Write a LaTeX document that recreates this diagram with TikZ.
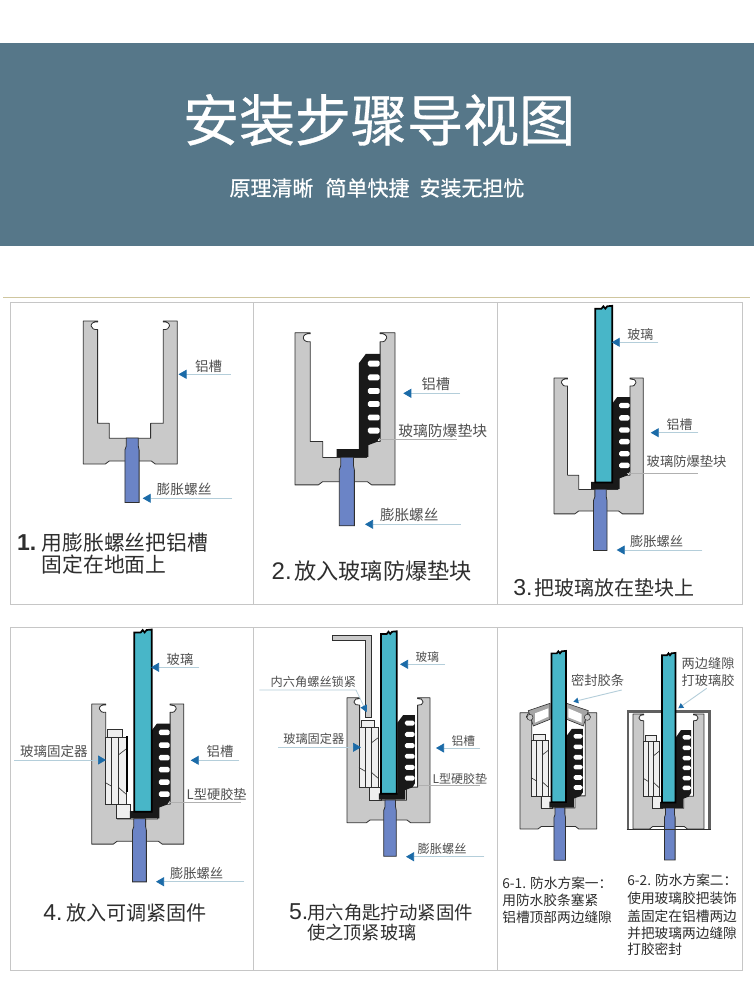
\documentclass[tikz,border=0pt]{standalone}
\usepackage{fontspec}
\usetikzlibrary{arrows.meta}
\newfontfamily\cjk{Noto Sans CJK SC}
\newfontfamily\cjkheavy[FakeBold=0.5]{Noto Sans CJK SC}
\newfontfamily\lat{Liberation Sans}
\definecolor{headbg}{HTML}{567789}
\definecolor{panelline}{HTML}{C6C6C6}
\definecolor{goldline}{HTML}{CFC69F}
\definecolor{chanfill}{HTML}{C9C9C9}
\definecolor{inkline}{HTML}{2F2F2F}
\definecolor{screwfill}{HTML}{6B84C6}
\definecolor{glassfill}{HTML}{48B6C8}
\definecolor{leadblue}{HTML}{B4CEDA}
\definecolor{leadgray}{HTML}{B0B0B0}
\definecolor{tipblue}{HTML}{1B6BA8}
\definecolor{labink}{HTML}{505050}
\definecolor{capink}{HTML}{2E2E2E}
\definecolor{palefill}{HTML}{EFEFEF}
\tikzset{
  panelbox/.style={draw=panelline,line width=0.9pt,fill=white},
  chanshape/.style={draw=inkline,line width=0.8pt,fill=chanfill,line join=round},
  screwshape/.style={draw=inkline,line width=0.8pt,fill=screwfill},
  glassshape/.style={draw=black,line width=1.7pt,fill=glassfill,line join=miter},
  fixshape/.style={draw=inkline,line width=0.6pt,fill=palefill},
  lbl/.style={anchor=west,inner sep=0pt,outer sep=0pt,text=labink},
  captxt/.style={anchor=west,inner sep=0pt,outer sep=0pt,text=capink},
  leader/.style={draw=leadblue,line width=0.7pt,-{Triangle[length=8pt,width=9pt,color=tipblue]}},
  smallleader/.style={draw=leadblue,line width=0.9pt,-{Triangle[length=5pt,width=5.5pt,color=tipblue]}},
  plainlead/.style={draw=leadgray,line width=0.6pt},
}
\newcommand{\chanpart}{%
  \draw[chanshape] (0,0) -- (14.3,0) -- (14.3,1) .. controls (11,0.5) and (7.5,2) .. (7.8,5)
    .. controls (8,7.5) and (11,9) .. (14.3,8.5) -- (14.3,102.3) -- (26,102.3) -- (26,117.3)
    -- (67.3,117.3) -- (67.3,102.3) -- (80,102.3) -- (80,8.5)
    .. controls (83.3,9) and (86,7.5) .. (86.2,5) .. controls (86.5,2) and (83,0.5) .. (80,1)
    -- (80,0) -- (94,0) -- (94,143) -- (72,143) -- (68,140) -- (26,140) -- (22,143) -- (0,143) -- cycle;}
\newcommand{\screwpart}{%
  \draw[screwshape] (43,117) -- (55,117) -- (55,125) -- (55.8,129) -- (55.8,181.5) -- (41.6,181.5)
    -- (41.6,129) -- (43,125) -- cycle;}
\newcommand{\gasketpart}[1]{%
  \begin{scope}[shift={(#1,0)}]
  \fill[black!90] (80,20) -- (66.5,20) -- (60,28.7) -- (60,109.4) -- (39,109.4) -- (39,116.6)
    -- (69,116.6) -- (69,105.6) -- (77,102.6) -- (80,98) -- cycle;
  \foreach \hy in {29,42,54.8,67,79.7,92}
    \fill[white,rounded corners=1.6pt] (68.6,\hy-2.8) rectangle (79.6,\hy+2.8);
  \end{scope}}
\newcommand{\glasspart}[1]{%
  \begin{scope}[shift={(#1,0)}]
  \draw[glassshape] (43.5,110) -- (43.5,-73) -- (50,-73) -- (52,-75.5) -- (54,-73) -- (56,-75.5)
    -- (61.3,-76) -- (61.3,110) -- cycle;
  \end{scope}}
\newcommand{\fixerpart}{%
  \draw[fixshape] (25.5,102.7) rectangle (39,117);
  \draw[fixshape] (16,26) rectangle (31,34);
  \draw[fixshape] (13.6,33.7) rectangle (20.4,102.7);
  \draw[fixshape] (20.4,33.7) rectangle (27.2,102.7);
  \draw[fixshape] (27.2,33.7) rectangle (35,102.7);
  \draw[inkline,line width=0.6pt] (27.2,52) -- (35,46) (27.2,85) -- (35,92) (13.6,80) -- (20.4,84);}
\newcommand{\lb}[5]{\node[lbl,font=\cjk\fontsize{#4}{#4}\selectfont] (#1) at (#2,#3) {#5};}
\newcommand{\cp}[5]{\node[captxt,font=\cjk\fontsize{#4}{#4}\selectfont] (#1) at (#2,#3) {#5};}
\newcommand{\tipl}[5]{\coordinate (#1e) at (#2,#3); \coordinate (#1t) at (#4,#5); \draw[leader] (#1e) -- (#1t);}
\newcommand{\tipsmall}[5]{\coordinate (#1e) at (#2,#3); \coordinate (#1t) at (#4,#5); \draw[smallleader] (#1e) -- (#1t);}
\newcommand{\plainl}[5]{\coordinate (#1e) at (#2,#3); \coordinate (#1t) at (#4,#5); \draw[plainlead] (#1e) -- (#1t);}
\begin{document}
\begin{tikzpicture}[x=1pt,y=-1pt]
\useasboundingbox (0,0) rectangle (754,1008);
\fill[white] (0,0) rectangle (754,1008);
% header
\fill[headbg] (0,43) rectangle (754,246);
\node[inner sep=0pt,text=white,font=\cjkheavy\fontsize{56}{56}\selectfont] (title) at (379,120) {安装步骤导视图};
\node[inner sep=0pt,text=white,font=\cjkheavy\fontsize{21}{21}\selectfont] (subtitle) at (377,188) {原理清晰\hspace{12pt}简单快捷\hspace{10pt}安装无担忧};
\draw[goldline,line width=1.2pt] (3,297.6) -- (750,297.6);
% panels
\draw[panelbox] (10.5,302) rectangle (253.5,604);
\draw[panelbox] (253.5,302) rectangle (497,604);
\draw[panelbox] (497,302) rectangle (742,604);
\draw[panelbox] (10.5,627) rectangle (253.5,970);
\draw[panelbox] (253.5,627) rectangle (497,970);
\draw[panelbox] (497,627) rectangle (742,970);
% panel 1
\begin{scope}[shift={(83.3,321)}]
  \chanpart \screwpart
\end{scope}
\lb{p1a}{195}{366}{13.5}{铝槽}
\tipl{p1ta}{230.7}{374.3}{178.5}{374.3}
\lb{p1b}{156.7}{489}{13.7}{膨胀螺丝}
\tipl{p1tb}{232}{498.3}{142.7}{498.3}
\cp{p1c}{17}{542.5}{20.8}{\makebox[24.7pt][l]{\lat\bfseries\fontsize{23}{23}\selectfont 1.}用膨胀螺丝把铝槽}
\cp{p1d}{41.7}{565}{20.8}{固定在地面上}
% panel 2
\begin{scope}[shift={(295,332.7)},xscale=1.064,yscale=1.064]
  \chanpart \screwpart \gasketpart{0}
\end{scope}
\lb{p2a}{421.7}{384}{14.2}{铝槽}
\tipl{p2ta}{460}{393.3}{403.3}{393.3}
\lb{p2b}{398.3}{430.7}{14.8}{玻璃防爆垫块}
\plainl{p2tb}{378.3}{439}{456.7}{439}
\lb{p2c}{380}{515}{14.6}{膨胀螺丝}
\tipl{p2td}{460.7}{524.3}{365}{524.3}
\cp{p2d}{271.7}{571}{22.2}{\makebox[22.6pt][l]{\lat\fontsize{24}{24}\selectfont 2.}放入玻璃防爆垫块}
% panel 3
\begin{scope}[shift={(554,378)},xscale=0.95,yscale=0.95]
  \chanpart \screwpart \gasketpart{0} \glasspart{0}
\end{scope}
\lb{p3a}{627.3}{334.3}{13}{玻璃}
\tipl{p3ta}{658.3}{342.3}{611.7}{342.3}
\lb{p3b}{666.7}{424.3}{12.8}{铝槽}
\tipl{p3tb}{698.3}{432.7}{650.7}{432.7}
\lb{p3c}{646.7}{461.7}{13.3}{玻璃防爆垫块}
\plainl{p3tc}{626.7}{473.3}{698.3}{473.3}
\lb{p3d}{630}{541.7}{13.3}{膨胀螺丝}
\tipl{p3td}{702.3}{550}{616.7}{550}
\cp{p3e}{513.3}{588.3}{20}{\makebox[21pt][l]{\lat\fontsize{23}{23}\selectfont 3.}把玻璃放在垫块上}
% panel 4
\begin{scope}[shift={(91.7,704)},xscale=0.98,yscale=0.98]
  \chanpart \screwpart \fixerpart
  \fill[black] (35,33) rectangle (37.4,90);
  \gasketpart{0} \glasspart{0}
\end{scope}
\lb{p4a}{166.7}{659.3}{13.3}{玻璃}
\tipl{p4ta}{199.3}{667.3}{151}{667.3}
\lb{p4b}{20}{751}{13.5}{玻璃固定器}
\tipl{p4tb}{14}{760}{106}{760}
\lb{p4c}{206.7}{751.7}{13.3}{铝槽}
\tipl{p4tc}{239.3}{760.3}{190.7}{760.3}
\lb{p4d}{186.7}{794}{13.2}{L型硬胶垫}
\plainl{p4td}{170}{802.3}{240.7}{802.3}
\lb{p4e}{170}{873.3}{13.3}{膨胀螺丝}
\tipl{p4te}{244}{881.7}{156}{881.7}
\cp{p4f}{43.3}{912.7}{20.1}{\makebox[22.7pt][l]{\lat\fontsize{23}{23}\selectfont 4.}放入可调紧固件}
% panel 5
\begin{scope}[shift={(347,697.7)},xscale=0.883,yscale=0.874]
  \chanpart \screwpart \fixerpart \gasketpart{-3} \glasspart{-5}
\end{scope}
\coordinate (key1) at (332.3,635);
\draw[draw=inkline,line width=0.8pt,fill=chanfill] (key1) -- (371.7,635) -- (371.7,717.7) -- (365.7,717.7) -- (365.7,640.7) -- (332.3,640.7) -- cycle;
\lb{p5a}{415.7}{657.3}{11.7}{玻璃}
\tipl{p5ta}{445}{664.3}{400}{664.3}
\lb{p5b}{270.7}{681.7}{12.2}{内六角螺丝锁紧}
\coordinate (p5k) at (356,690);
\coordinate (p5ke) at (259.3,690);
\coordinate (p5kt) at (366.7,712.3);
\draw[draw=leadblue,line width=0.7pt,-{Triangle[length=7pt,width=7pt,color=tipblue]}] (p5ke) -- (p5k) -- (p5kt);
\lb{p5c}{283.3}{739.3}{12.2}{玻璃固定器}
\tipl{p5tc}{278.3}{747.3}{361}{747.3}
\lb{p5d}{451.7}{740.7}{11.7}{铝槽}
\tipl{p5td}{480}{748}{436}{748}
\lb{p5e}{432.7}{779}{12}{L型硬胶垫}
\plainl{p5te}{418.3}{785.7}{480}{785.7}
\lb{p5f}{417.7}{849.3}{12.2}{膨胀螺丝}
\tipl{p5tf}{484.3}{856.7}{406}{856.7}
\cp{p5g}{289}{912.7}{18.4}{\makebox[18.3pt][l]{\lat\fontsize{23}{23}\selectfont 5.}用六角匙拧动紧固件}
\cp{p5h}{307.3}{932.7}{18.2}{使之顶紧玻璃}
% panel 6-1
\begin{scope}[shift={(520,712.7)},xscale=0.816,yscale=0.813]
  \chanpart \screwpart \fixerpart \gasketpart{-3}
\end{scope}
\begin{scope}[shift={(500,690)},x=0.3333pt,y=-0.3333pt]
  \draw[draw=inkline,line width=0.6pt,fill=gray!70] (85,62) -- (150,40) -- (150,88) -- (100,108) -- cycle;
  \fill[white] (105,70) -- (145,55) -- (145,80) -- (105,98) -- cycle;
  \draw[draw=inkline,line width=0.6pt,fill=gray!70] (265,62) -- (200,40) -- (200,88) -- (250,108) -- cycle;
  \fill[white] (245,72) -- (205,55) -- (205,82) -- (245,98) -- cycle;
  \draw[draw=inkline,line width=0.5pt,fill=chanfill] (90,82) circle[radius=9];
  \draw[draw=inkline,line width=0.5pt,fill=chanfill] (262,82) circle[radius=9];
\end{scope}
\begin{scope}[shift={(520,712.7)},xscale=0.816,yscale=0.813]
  \glasspart{-5}
\end{scope}
\lb{p6a}{571}{680}{13.3}{密封胶条}
\tipsmall{p6ta}{621.7}{690}{573.3}{701.7}
\cp{p6b}{502.3}{883.3}{13.7}{6-1. 防水方案一：}
\cp{p6c}{502.3}{900}{13.7}{用防水胶条塞紧}
\cp{p6d}{502.3}{917.7}{13.7}{铝槽顶部两边缝隙}
% panel 6-2
\begin{scope}[shift={(633,714)},xscale=0.755,yscale=0.804]
  \chanpart \screwpart \fixerpart \gasketpart{-3}
\end{scope}
\draw[draw=gray!75!black,line width=2.8pt] (628,829) -- (628,711.4) -- (709.3,711.4) -- (709.3,829);
\draw[draw=inkline,line width=0.5pt] (626.6,829) -- (710.7,829);
\begin{scope}[shift={(633,714)},xscale=0.755,yscale=0.804]
  \glasspart{-5}
\end{scope}
\lb{p6e}{681.7}{663.3}{13.2}{两边缝隙}
\lb{p6f}{681.7}{680}{13.2}{打玻璃胶}
\tipsmall{p6tf}{706.7}{688.3}{678.3}{708.3}
\cp{p6g}{627.3}{880.7}{13.7}{6-2. 防水方案二：}
\cp{p6h}{627.3}{898.3}{13.7}{使用玻璃胶把装饰}
\cp{p6i}{627.3}{916}{13.7}{盖固定在铝槽两边}
\cp{p6j}{627.3}{933.3}{13.7}{并把玻璃两边缝隙}
\cp{p6k}{627.3}{949.3}{13.7}{打胶密封}
\end{tikzpicture}
\end{document}
